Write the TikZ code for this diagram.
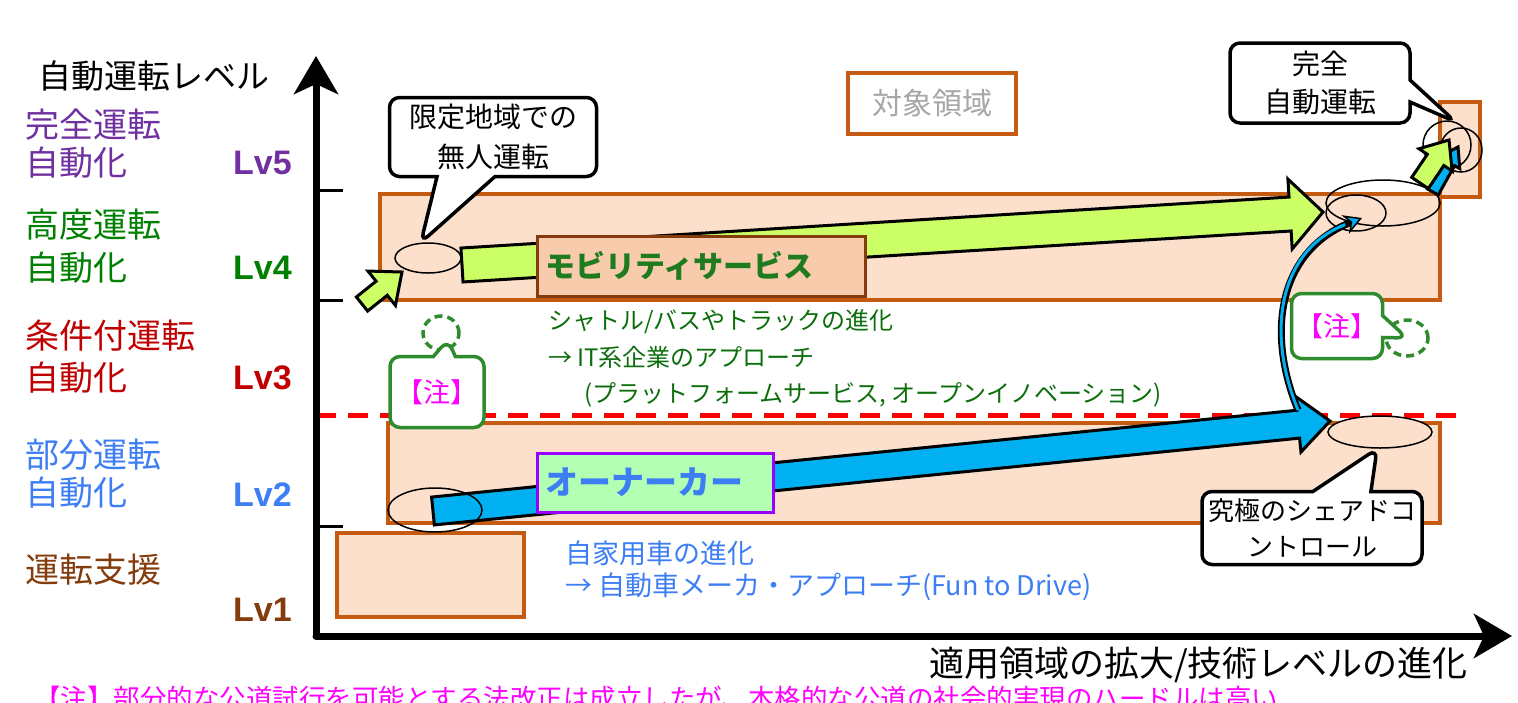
\documentclass[tikz,border=0pt]{standalone}
\usepackage{fontspec}
\setmainfont{Noto Sans CJK JP}
\newfontfamily\lvfont{Liberation Sans}
\usetikzlibrary{calc,shapes.geometric,shapes.callouts,arrows.meta}

\definecolor{peach}{HTML}{FCE0CC}
\definecolor{rust}{HTML}{C55A11}
\definecolor{darkrust}{HTML}{843C0C}
\definecolor{salmonbox}{HTML}{F8CBAD}
\definecolor{arrowlime}{HTML}{CCFF66}
\definecolor{skyblue}{HTML}{00B0F0}
\definecolor{mintbox}{HTML}{B3FFB3}
\definecolor{violetline}{HTML}{9900FF}
\definecolor{lvpurple}{HTML}{7030A0}
\definecolor{lvgreen}{HTML}{008000}
\definecolor{lvred}{HTML}{C00000}
\definecolor{lvblue}{HTML}{3D7EF5}
\definecolor{lvbrown}{HTML}{843C0C}
\definecolor{shuttlegreen}{HTML}{0B6E0B}
\definecolor{mobgreen}{HTML}{1E7B1E}
\definecolor{notegreen}{HTML}{2E8B2E}
\definecolor{notepink}{HTML}{FF00FF}
\definecolor{zonegray}{HTML}{A6A6A6}

% block arrow: fill, start, tip, body half, head half, head length
\newcommand{\blockarrow}[6]{%
  \coordinate (ba-h) at ($(#3)!#6!(#2)$);
  \filldraw[fill=#1, draw=black, line width=3pt, line join=miter]
    ($(#2)!#4!90:(#3)$) -- ($(ba-h)!#4!-90:(#2)$) -- ($(ba-h)!#5!-90:(#2)$)
    -- (#3) -- ($(ba-h)!#5!90:(#2)$) -- ($(ba-h)!#4!90:(#2)$)
    -- ($(#2)!#4!-90:(#3)$) -- cycle;
}

\begin{document}
\begin{tikzpicture}
[
    x=1pt, y=-1pt,
    zone/.style={draw=rust, line width=4pt, fill=peach},
    lvtext/.style={anchor=west, inner sep=0, font=\fontsize{34}{38}\selectfont},
    lvnum/.style={anchor=east, inner sep=0, font=\lvfont\bfseries\fontsize{34}{38}\selectfont},
    plain/.style={anchor=west, inner sep=0},
    spot/.style={ellipse, draw=black, line width=1.5pt, inner sep=0},
    dashring/.style={ellipse, draw=notegreen, line width=3.5pt, dash pattern=on 8pt off 5pt, inner sep=0},
    bubble/.style={rectangle callout, draw=black, line width=3.5pt, fill=white, rounded corners=10pt,
        align=center, inner sep=0, callout pointer width=58pt},
    notebubble/.style={bubble, draw=notegreen, text=notepink, callout pointer width=22pt,
        font=\fontsize{27}{32}\selectfont},
    axis/.style={line width=7pt, line cap=round, -{Stealth[length=38pt, width=44pt, inset=10pt]}},
]
\useasboundingbox (0,0) rectangle (1518,702);

% zones
\draw[zone] (337,533) rectangle (524,617);
\draw[zone] (388,423) rectangle (1440,523);
\draw[zone] (380,194) rectangle (1440,300);
\draw[zone] (1440,102) rectangle (1480,197);
\node[draw=rust, line width=4pt, fill=white, minimum width=168pt, minimum height=61pt,
    text=zonegray, font=\fontsize{30}{34}\selectfont] (target) at (932,103.5) {対象領域};

% level 3 line
\coordinate (l3a) at (316,415);
\coordinate (l3b) at (1462,415);
\draw[red, line width=5pt, dash pattern=on 20pt off 12pt] (l3a) -- (l3b);

% axes
\coordinate (o) at (316,636);
\coordinate (ytop) at (316,56);
\coordinate (xend) at (1512,636);
\draw[axis] (o) -- (ytop);
\draw[axis] (o) -- (xend);
\foreach \ty in {190,300,526}
    \draw[line width=3pt] (316,\ty) -- (343,\ty);

% big arrows
\coordinate (ga) at (462,265);
\coordinate (gb) at (1323,212);
\blockarrow{arrowlime}{ga}{gb}{17pt}{35pt}{33pt}
\coordinate (bla) at (433,511);
\coordinate (blb) at (1330,421);
\blockarrow{skyblue}{bla}{blb}{14pt}{28pt}{32pt}

\node[draw=darkrust, line width=3pt, fill=salmonbox, minimum height=60pt, text width=312pt,
    inner sep=8pt, align=left, text=mobgreen, font=\bfseries\fontsize{30}{36}\selectfont]
    (mobility) at (701,266) {モビリティサービス};
\node[draw=violetline, line width=3pt, fill=mintbox, minimum height=59pt, text width=220pt,
    inner sep=8pt, align=left, text=lvblue, font=\bfseries\fontsize{33}{36}\selectfont]
    (owner) at (655,482.5) {オーナーカー};

% spots
\node[spot, fill=peach, minimum width=66pt, minimum height=30pt] (elA) at (428,258) {};
\node[spot, minimum width=94pt, minimum height=44pt] (elB) at (435,510) {};
\node[spot, fill=peach, minimum width=104pt, minimum height=32pt] (elC) at (1380,432) {};
\node[spot, minimum width=114pt, minimum height=46pt] (elD) at (1383,203) {};
\node[spot, minimum width=60pt, minimum height=36pt] (elD2) at (1356,213) {};
\node[spot, minimum width=48pt, minimum height=48pt] (elE) at (1447,145) {};
\node[spot, minimum width=42pt, minimum height=44pt] (elE2) at (1461,150) {};

% curved arrow
\coordinate (cv1) at (1298,410);
\coordinate (cv2) at (1362,218);
\draw[line width=7pt, -{Stealth[length=18pt, width=20pt, fill=skyblue, line width=1.5pt]}]
    (cv1) .. controls (1265,330) and (1280,250) .. (cv2);
\draw[line width=3pt, skyblue, shorten >=18pt] (cv1) .. controls (1265,330) and (1280,250) .. (cv2);

% small arrows
\coordinate (sga) at (362,304);
\coordinate (sgb) at (402,272);
\blockarrow{arrowlime}{sga}{sgb}{9pt}{22pt}{26pt}
\coordinate (sba) at (1433,192);
\coordinate (sbb) at (1458,147);
\blockarrow{skyblue}{sba}{sbb}{6pt}{12pt}{18pt}
\coordinate (sla) at (1420,183);
\coordinate (slb) at (1449,140);
\blockarrow{arrowlime}{sla}{slb}{10pt}{20pt}{24pt}

% callouts
\node[bubble, minimum width=207pt, minimum height=79pt, callout absolute pointer={(elA.115)},
    font=\fontsize{28}{40}\selectfont] (limited) at (493,137) {限定地域での\\無人運転};
\node[bubble, minimum width=180pt, minimum height=80pt, callout absolute pointer={(elE.70)},
    callout pointer width=22pt, font=\fontsize{28}{38}\selectfont] (fullauto) at (1320,83) {完全\\自動運転};
\node[bubble, minimum width=220pt, minimum height=73pt, callout absolute pointer={(elC.260)},
    font=\fontsize{26}{36}\selectfont] (shared) at (1312,528) {究極のシェアドコ\\ントロール};
\node[dashring, minimum width=36pt, minimum height=34pt] (dcA) at (441,333) {};
\node[dashring, minimum width=42pt, minimum height=36pt] (dcB) at (1407,338) {};
\node[notebubble, minimum width=94pt, minimum height=71pt,
    callout absolute pointer={($(dcA.center)!0.5!(dcA.-45)$)}] (noteL) at (437,392) {【注】};
\node[notebubble, minimum width=91pt, minimum height=65pt, callout absolute pointer={(dcB.center)}]
    (noteR) at (1337,326) {【注】};

% level labels
\node[lvtext, font=\fontsize{33}{38}\selectfont] (ytitle) at (38,76) {自動運転レベル};
\node[lvtext, text=lvpurple] (l5a) at (25,125) {完全運転};
\node[lvtext, text=lvpurple] (l5b) at (25,163) {自動化};
\node[lvnum, text=lvpurple] (lv5) at (292,163) {Lv5};
\node[lvtext, text=lvgreen] (l4a) at (25,225) {高度運転};
\node[lvtext, text=lvgreen] (l4b) at (25,268) {自動化};
\node[lvnum, text=lvgreen] (lv4) at (292,268) {Lv4};
\node[lvtext, text=lvred] (l3a-t) at (25,336) {条件付運転};
\node[lvtext, text=lvred] (l3b-t) at (25,378) {自動化};
\node[lvnum, text=lvred] (lv3) at (292,378) {Lv3};
\node[lvtext, text=lvblue] (l2a) at (25,455) {部分運転};
\node[lvtext, text=lvblue] (l2b) at (25,493) {自動化};
\node[lvnum, text=lvblue] (lv2) at (292,495) {Lv2};
\node[lvtext, text=lvbrown] (l1a) at (25,570) {運転支援};
\node[lvnum, text=lvbrown] (lv1) at (292,610) {Lv1};

% notes
\node[plain, text=shuttlegreen, font=\fontsize{24}{28}\selectfont] (sh1) at (548,322) {シャトル/バスやトラックの進化};
\node[plain, text=shuttlegreen, font=\fontsize{24}{28}\selectfont] (sh2) at (548,357) {→ IT系企業のアプローチ};
\node[plain, text=shuttlegreen, font=\fontsize{24}{28}\selectfont] (sh3) at (584,395) {(プラットフォームサービス, オープンイノベーション)};
\node[plain, text=lvblue, font=\fontsize{27}{30}\selectfont] (car1) at (565,553) {自家用車の進化};
\node[plain, text=lvblue, font=\fontsize{27}{30}\selectfont] (car2) at (565,587) {→ 自動車メーカ・アプローチ(Fun to Drive)};
\node[anchor=east, inner sep=0, font=\fontsize{35}{38}\selectfont] (xtitle) at (1468,665) {適用領域の拡大/技術レベルの進化};
\node[anchor=north west, inner sep=0, text=notepink, font=\fontsize{26.5}{30}\selectfont] (footnote) at (34,686)
    {【注】部分的な公道試行を可能とする法改正は成立したが、本格的な公道の社会的実現のハードルは高い};
\end{tikzpicture}
\end{document}
